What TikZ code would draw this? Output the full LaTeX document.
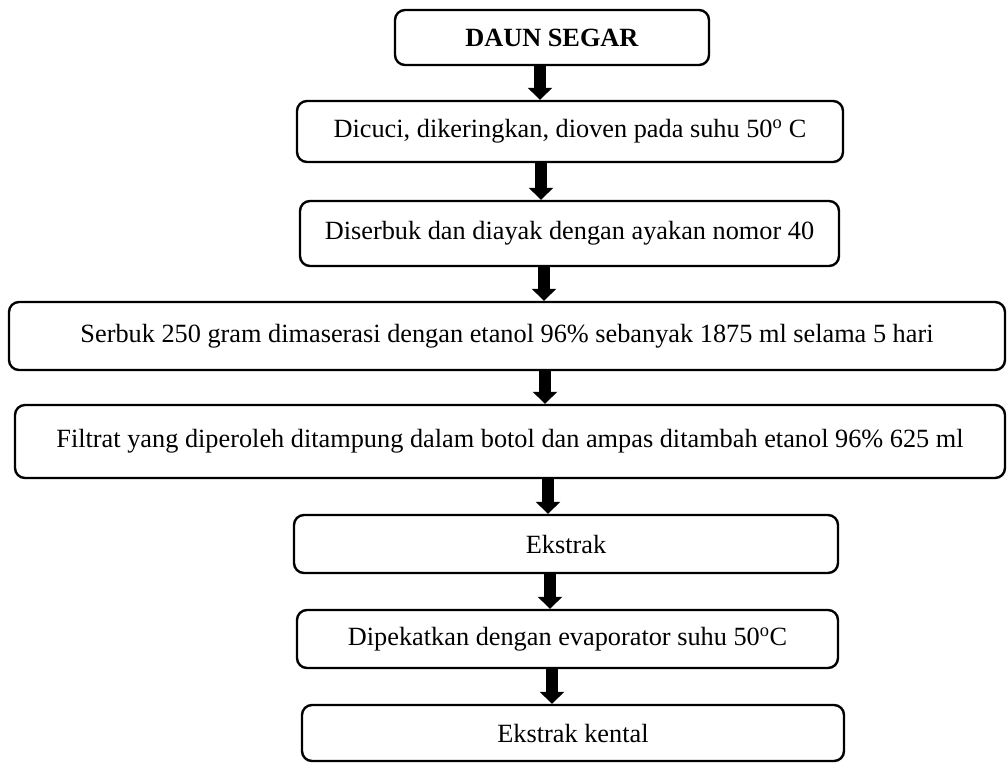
\documentclass[tikz,border=0pt]{standalone}
\usepackage{fontspec}
\setmainfont{Liberation Serif}
\usetikzlibrary{arrows.meta}
\begin{document}
\begin{tikzpicture}[x=1pt,y=-1pt,
  procbox/.style={draw=black,line width=2.4pt,rounded corners=10pt,inner sep=0pt,
    font=\fontsize{26.3}{30}\selectfont,anchor=center},
  fatarrow/.style={line width=12pt,-{Triangle[width=24pt,length=12pt]}}]
\useasboundingbox (0,0) rectangle (1008,763);
\node[procbox,minimum width=314pt,minimum height=55pt] (b1) at (552,37.5) {\textbf{DAUN SEGAR}};
\node[procbox,minimum width=546pt,minimum height=61pt] (b2) at (570,131.5) {Dicuci, dikeringkan, dioven pada suhu 50\textsuperscript{o} C};
\node[procbox,minimum width=539pt,minimum height=65pt] (b3) at (569.5,233.5) {Diserbuk dan diayak dengan ayakan nomor 40};
\node[procbox,minimum width=996pt,minimum height=68pt] (b4) at (507,336) {Serbuk 250 gram dimaserasi dengan etanol 96\% sebanyak 1875 ml selama 5 hari};
\node[procbox,minimum width=990pt,minimum height=73pt] (b5) at (510,441.5) {Filtrat yang diperoleh ditampung dalam botol dan ampas ditambah etanol 96\% 625 ml};
\node[procbox,minimum width=544pt,minimum height=58pt] (b6) at (566,544) {Ekstrak};
\node[procbox,minimum width=541pt,minimum height=58pt] (b7) at (567.5,639) {Dipekatkan dengan evaporator suhu 50\textsuperscript{o}C};
\node[procbox,minimum width=542pt,minimum height=56pt] (b8) at (573,733) {Ekstrak kental};
\coordinate (x1) at (540,0);
\coordinate (x2) at (541,0);
\coordinate (x3) at (544,0);
\coordinate (x4) at (545,0);
\coordinate (x5) at (548,0);
\coordinate (x6) at (550,0);
\coordinate (x7) at (552,0);
\draw[fatarrow] (b1.south -| x1) -- (b2.north -| x1);
\draw[fatarrow] (b2.south -| x2) -- (b3.north -| x2);
\draw[fatarrow] (b3.south -| x3) -- (b4.north -| x3);
\draw[fatarrow] (b4.south -| x4) -- (b5.north -| x4);
\draw[fatarrow] (b5.south -| x5) -- (b6.north -| x5);
\draw[fatarrow] (b6.south -| x6) -- (b7.north -| x6);
\draw[fatarrow] (b7.south -| x7) -- (b8.north -| x7);
\end{tikzpicture}
\end{document}
